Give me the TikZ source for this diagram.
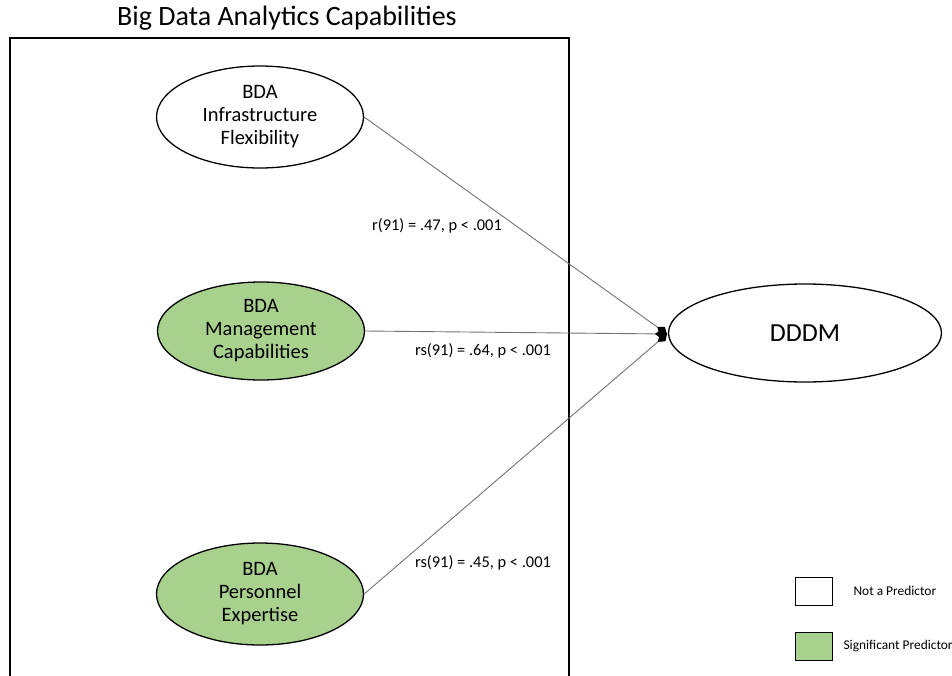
\documentclass[tikz,border=0pt]{standalone}
\usepackage{fontspec}
\setmainfont{Carlito}
\usetikzlibrary{arrows.meta,shapes.geometric}
\definecolor{sigGreen}{HTML}{A9D18E}
\begin{document}
\begin{tikzpicture}[x=1pt,y=-1pt,
  construct/.style={draw=black,line width=1.3pt,ellipse,inner sep=0pt,
    minimum width=207pt,minimum height=100pt,align=center,font=\fontsize{20.5}{23}\selectfont},
  predictor/.style={construct,fill=sigGreen},
  link/.style={draw=black!55,line width=0.9pt,-{Diamond[length=12pt,width=9pt,fill=black,color=black]}},
  stat/.style={font=\fontsize{16.4}{18}\selectfont},
  keybox/.style={draw=black,line width=1pt,minimum width=37pt,minimum height=28pt,inner sep=0pt},
  keytext/.style={font=\fontsize{13.4}{15}\selectfont,anchor=west}]
\useasboundingbox (0,0) rectangle (952,675);

% grouping frame for the three capability dimensions
\draw[line width=1.6pt] (10,677) -- (10,38) -- (569,38) -- (569,677);
\node[font=\fontsize{28}{32}\selectfont] (title) at (287,18) {Big Data Analytics Capabilities};

% capability constructs
\node[construct,minimum height=102pt] (infra) at (260,117) {BDA\\Infrastructure\\Flexibility};
\node[predictor,minimum height=98pt] (mgmt) at (261,331) {BDA\\Management\\Capabilities};
\node[predictor,minimum height=102pt] (pers) at (260,594) {BDA\\Personnel\\Expertise};

% outcome construct
\node[construct,minimum width=273pt,minimum height=98pt,font=\fontsize{26}{30}\selectfont] (dddm) at (805,333) {DDDM};
\coordinate (tip) at (667,334);

% correlations
\draw[link] (infra.east) -- (tip);
\draw[link] (mgmt.east) -- (tip);
\draw[link] (pers.east) -- (tip);

\node[stat] (s1) at (437,226) {r(91) = .47, p < .001};
\node[stat] (s2) at (483,351) {rs(91) = .64, p < .001};
\node[stat] (s3) at (483,563) {rs(91) = .45, p < .001};

% legend
\node[keybox] (k1) at (813.5,591) {};
\node[keytext] (k1t) at (850,591) {Not a Predictor};
\node[keybox,fill=sigGreen] (k2) at (813.5,646) {};
\node[keytext] (k2t) at (840,646) {Significant Predictor};
\end{tikzpicture}
\end{document}
